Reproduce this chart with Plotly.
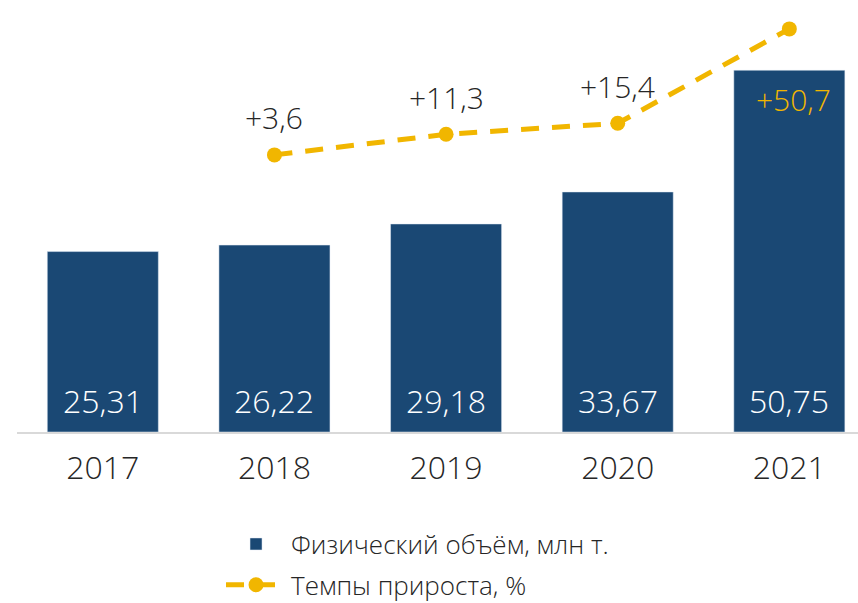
import plotly.graph_objects as go

years = ["2017", "2018", "2019", "2020", "2021"]
volume = [25.31, 26.22, 29.18, 33.67, 50.75]
growth_years = ["2018", "2019", "2020", "2021"]
growth = [3.6, 11.3, 15.4, 50.7]

bar_name = "Физический объём, млн т."
line_name = "Темпы прироста, %"

BAR_COLOR = "#1A4874"
YELLOW = "#F1B600"
TEXT = "#262626"
FONT = "Open Sans"

def fmt(v, nd):
    return f"{v:.{nd}f}".replace(".", ",")

fig = go.Figure()
fig.add_trace(go.Bar(
    x=years, y=volume, name=bar_name, marker_color=BAR_COLOR,
    width=0.647, legendgroup="a", hoverinfo="skip",
))
fig.add_trace(go.Scatter(
    x=growth_years, y=growth, name=line_name, yaxis="y2",
    mode="lines+markers",
    line=dict(color=YELLOW, width=5, dash="18px,13px"),
    marker=dict(color=YELLOW, size=15),
    legendgroup="b", hoverinfo="skip",
))

annotations = []
for x, v in zip(years, volume):
    annotations.append(dict(
        x=years.index(x), y=0, xref="x", yref="y", yshift=32, text=fmt(v, 2),
        showarrow=False, font=dict(family=FONT, size=32, color="white", weight=300),
    ))
for i, (x, v) in enumerate(zip(growth_years, growth)):
    last = i == len(growth) - 1
    annotations.append(dict(
        x=years.index(x), y=v, xref="x", yref="y2", yshift=-71 if last else 37,
        xshift=4 if last else 0,
        text="+" + fmt(v, 1), showarrow=False,
        font=dict(family=FONT, size=30, color=YELLOW if last else TEXT, weight=300),
    ))

fig.update_layout(
    width=858, height=603,
    margin=dict(l=17, r=0, t=0, b=171, autoexpand=False),
    paper_bgcolor="white", plot_bgcolor="white",
    font=dict(family=FONT, color=TEXT),
    xaxis=dict(
        type="category", range=[-0.5, 4.4], showgrid=False,
        showline=True, linecolor="#D9D9D9", linewidth=2,
        ticks="", tickfont=dict(size=32, color=TEXT, weight=300),
        ticklabelstandoff=7,
    ),
    yaxis=dict(range=[0, 60.6], visible=False, showgrid=False, zeroline=False),
    yaxis2=dict(range=[-100, 61.5], overlaying="y", side="right",
                visible=False, showgrid=False, zeroline=False),
    showlegend=True,
    legend=dict(
        x=0.2426, y=-0.205, xanchor="left", yanchor="top",
        orientation="v", font=dict(size=26, color=TEXT, weight=300),
        tracegroupgap=4, traceorder="grouped", itemwidth=60,
        bgcolor="rgba(0,0,0,0)",
    ),
    annotations=annotations,
    bargap=0.35,
)

fig.write_html(
    "out.html",
    config={"displayModeBar": False},
    post_script="document.body.style.margin='0';document.body.style.overflow='hidden';",
)
